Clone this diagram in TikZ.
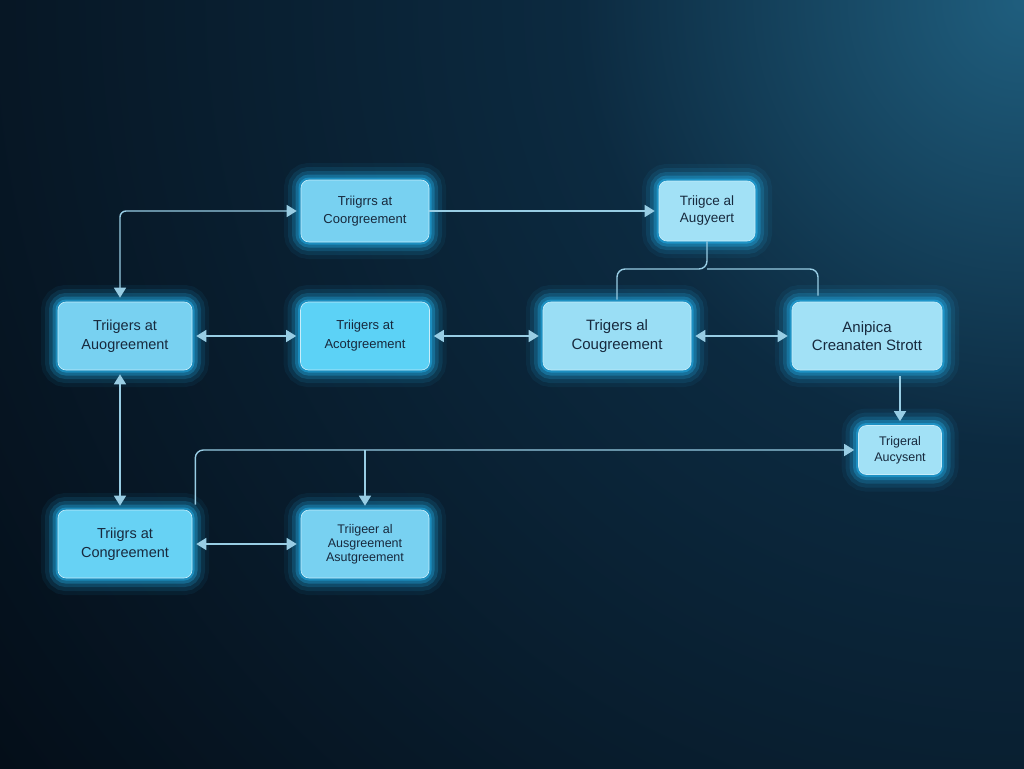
\documentclass[tikz,border=0pt]{standalone}
\usepackage{fontspec}
\setmainfont{Liberation Sans}
\usetikzlibrary{arrows.meta,positioning}
\definecolor{bgdark}{HTML}{030A13}
\definecolor{bgmid}{HTML}{0C2A40}
\definecolor{bglight}{HTML}{1F5E7E}
\definecolor{boxfill}{HTML}{78D1F1}
\definecolor{boxbright}{HTML}{5CD2F6}
\definecolor{boxpale}{HTML}{A2E1F6}
\definecolor{glow}{HTML}{26C0FF}
\definecolor{linkcol}{HTML}{98CDE4}
\definecolor{txtcol}{HTML}{17293D}
\pgfdeclareradialshading{cornerglow}{\pgfpoint{0bp}{0bp}}{color(0bp)=(bglight); color(8bp)=(bgmid); color(25bp)=(bgdark); color(50bp)=(bgdark)}
\tikzset{%
	block/.style    = {fill=boxfill, rounded corners=8pt, align=center, text=txtcol, font=\fontsize{13}{18}\selectfont, inner sep=0pt,
		preaction={draw=glow, line width=34pt, draw opacity=0.06},
		preaction={draw=glow, line width=26pt, draw opacity=0.1},
		preaction={draw=glow, line width=18pt, draw opacity=0.17},
		preaction={draw=glow, line width=11pt, draw opacity=0.27},
		preaction={draw=glow, line width=5pt, draw opacity=0.4},
		draw=boxpale!60!white, line width=0.6pt},
	link/.style     = {draw=linkcol, line width=1.4pt, -{Triangle[length=10pt,width=12pt]}, shorten >=4pt},
	linkboth/.style = {draw=linkcol, line width=1.4pt, {Triangle[length=10pt,width=12pt]}-{Triangle[length=10pt,width=12pt]}, shorten >=4pt, shorten <=4pt},
	branch/.style   = {draw=linkcol, line width=1.4pt, rounded corners=8pt},
}
\begin{document}
\begin{tikzpicture}[x=1pt,y=-1pt]
	\useasboundingbox (0,0) rectangle (1024,768);
	\fill[bgdark] (0,0) rectangle (1024,768);
	\begin{scope}
		\clip (0,0) rectangle (1024,768);
		\shade[shading=cornerglow] (1024,0) circle (1400);
	\end{scope}
	% boxes
	\node[block, minimum width=128pt, minimum height=62pt] (trigA) at (365,211) {Triigrrs at\\Coorgreement};
	\node[block, fill=boxpale, minimum width=96pt, minimum height=60pt, font=\fontsize{13.5}{17}\selectfont] (trigB) at (707,211) {Triigce al\\Augyeert};
	\node[block, minimum width=134pt, minimum height=68pt, font=\fontsize{14.5}{19}\selectfont] (trigC) at (125,336) {Triigers at\\Auogreement};
	\node[block, fill=boxbright, minimum width=129pt, minimum height=68pt, font=\fontsize{13}{19}\selectfont] (trigD) at (365,336) {Triigers at\\Acotgreement};
	\node[block, fill=boxpale!80!boxfill, minimum width=148pt, minimum height=68pt, font=\fontsize{15}{19}\selectfont] (trigE) at (617,336) {Trigers al\\Cougreement};
	\node[block, fill=boxpale, minimum width=150pt, minimum height=68pt, font=\fontsize{15}{18}\selectfont] (trigF) at (867,336) {Anipica\\Creanaten Strott};
	\node[block, fill=boxpale, minimum width=83pt, minimum height=49pt, font=\fontsize{12.5}{16}\selectfont] (trigG) at (900,450) {Trigeral\\Aucysent};
	\node[block, fill=boxbright!60!boxfill, minimum width=134pt, minimum height=68pt, font=\fontsize{14.5}{19}\selectfont] (trigH) at (125,544) {Triigrs at\\Congreement};
	\node[block, minimum width=128pt, minimum height=68pt, font=\fontsize{12.5}{14}\selectfont] (trigI) at (365,544) {Triigeer al\\Ausgreement\\Asutgreement};
	% connectors
	\draw[linkboth, rounded corners=6pt] (trigA.west) -| ([xshift=-5pt]trigC.north);
	\draw[link] (trigA.east) -- (trigB.west);
	\coordinate (fork) at (707,269);
	\draw[branch] (trigB.south) -- (fork) -| ([yshift=2pt]trigE.north);
	\draw[branch] (fork) -| ([xshift=-49pt,yshift=6pt]trigF.north);
	\draw[linkboth] (trigC.east) -- (trigD.west);
	\draw[linkboth] (trigD.east) -- (trigE.west);
	\draw[linkboth] (trigE.east) -- (trigF.west);
	\draw[link, shorten <=6pt] (trigF.south -| trigG.north) -- (trigG.north);
	\draw[linkboth] ([xshift=-5pt]trigC.south) -- ([xshift=-5pt]trigH.north);
	\draw[link, rounded corners=8pt] ([xshift=3pt,yshift=5pt]trigH.north east) |- (trigG.west);
	\draw[link] (trigI.north |- trigG.west) -- (trigI.north);
	\draw[linkboth] (trigH.east) -- (trigI.west);
\end{tikzpicture}
\end{document}
